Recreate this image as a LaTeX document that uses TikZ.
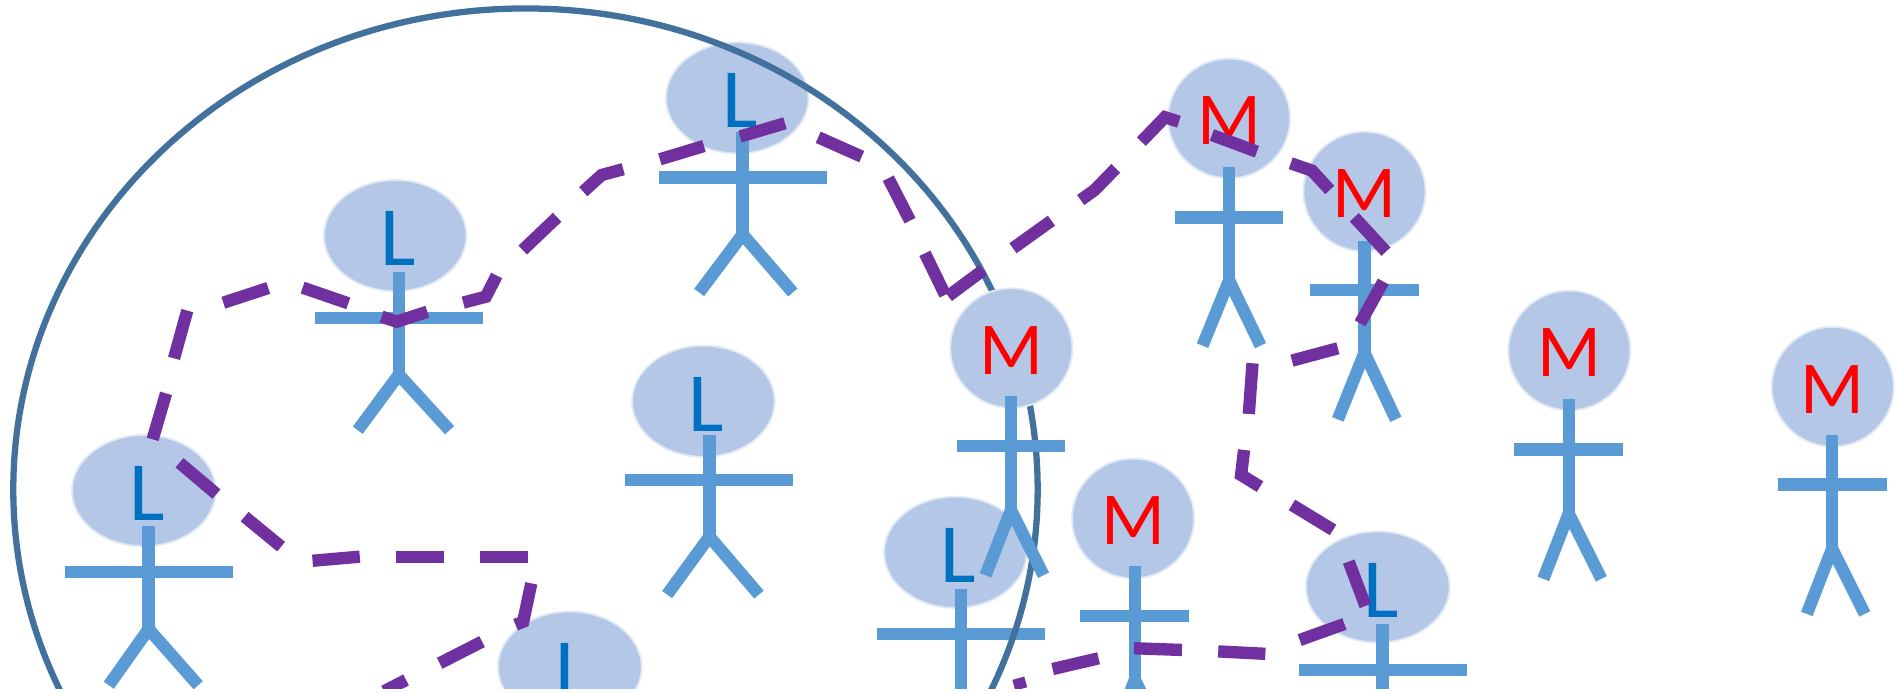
\documentclass[tikz,border=0pt]{standalone}
\usepackage{fontspec}
\setmainfont{Carlito}
\usetikzlibrary{shapes.geometric}
\definecolor{headblue}{HTML}{B4C7E7}
\definecolor{bodyblue}{HTML}{5B9BD5}
\definecolor{lblue}{HTML}{0070C0}
\definecolor{arcblue}{HTML}{41719C}
\definecolor{dashpurple}{HTML}{7030A0}
\tikzset{
  headshape/.style={ellipse,fill=headblue,draw=headblue!40,line width=1.5pt,inner sep=0pt},
  bodyline/.style={draw=bodyblue,line width=10.2bp},
  limbline/.style={draw=bodyblue,line width=10.2bp},
  dashseg/.style={draw=dashpurple,line width=10.2bp,line join=miter},
  bigarc/.style={draw=arcblue,line width=5.2bp},
  letterL/.style={text=lblue,font=\fontsize{70}{70}\selectfont,inner sep=0pt},
  letterM/.style={text=red,font=\fontsize{62}{62}\selectfont,inner sep=0pt}
}
% x, top, arm y, crotch y, arm half, right leg, left leg, foot y
\newcommand{\stick}[8]{%
  \path[bodyline] (#1,#2) -- (#1,#4);
  \path[bodyline] (#1-#5,#3) -- (#1+#5,#3);
  \path[limbline,line join=miter] (#1-#7,#8) -- (#1,#4) -- (#1+#6,#8);
}
% name, x, y, rx, ry
\newcommand{\lhead}[5]{%
  \node[headshape,minimum width=#4*2bp,minimum height=#5*2bp] (#1) at (#2,#3) {};
  \node[letterL] (#1t) at (#2+2.5,#3+2.5) {L};
}
\newcommand{\mhead}[5]{%
  \node[headshape,minimum width=#4*2bp,minimum height=#5*2bp] (#1) at (#2,#3) {};
  \node[letterM] (#1t) at (#2,#3+2) {M};
}
\begin{document}
\begin{tikzpicture}[x=1bp,y=-1bp]
\useasboundingbox (0,0) rectangle (1568,572.6);
\begin{scope}
\clip (0,0) rectangle (1568,569.3);
% L people (beneath the arc)
\lhead{la}{119}{406}{59.5}{46}
\stick{123}{435}{473.4}{520.5}{69.5}{41}{33}{567}
\lhead{lb}{327}{195}{59}{46}
\stick{330}{225}{263}{310}{69.5}{42}{34}{356}
\lhead{lc}{610}{81}{59}{46}
\stick{614.5}{109}{147}{194}{69.5}{41.5}{36}{242}
\lhead{ld}{582}{332}{59}{46}
\stick{587}{360}{397}{444}{69.5}{41}{35}{492}
\lhead{le}{790.5}{457}{59}{46}
\stick{795}{487}{524.6}{572}{69.5}{41}{35}{618}
\lhead{lf}{471.5}{552}{59.5}{46}
% big circle
\path[bigarc] (434.8,405) ellipse [x radius=423.8,y radius=398];
% M people
\mhead{ma}{836.8}{288}{50.5}{49.5}
\stick{836.5}{328}{369}{422}{45}{27}{21}{476}
\mhead{mb}{937.5}{429}{50.5}{49.5}
\stick{939}{468.5}{509.7}{562.5}{45}{27}{21}{617}
\mhead{mc}{1017}{98}{50.5}{49.5}
\stick{1017}{138}{180}{232}{45}{26}{22}{286}
\mhead{md}{1129}{158.5}{50.5}{49.5}
\stick{1129}{199}{240}{292}{45}{26}{22}{347}
\mhead{me}{1298.5}{290}{50.5}{49.5}
\stick{1298}{330}{372}{425}{45}{27}{21}{479}
\mhead{mf}{1516.5}{320}{50.5}{49.5}
\stick{1516}{360}{401}{454}{45}{27}{21}{508}
\lhead{lg}{1140}{485.7}{59.5}{46}
\stick{1144}{516}{554.4}{601}{69.5}{41}{35}{648}
% dashes
\foreach \p in {
 {(126.3,363.5)--(137.4,325.5)},{(144,296.5)--(153,264)--(155,257)},{(184.8,250.5)--(222,238.3)},
 {(250.4,238)--(288.2,251)},{(315.8,262)--(328.2,266.2)--(353.6,257.9)},{(383.3,250.4)--(402,245.5)--(411,228)},
 {(432.5,206.9)--(461,179.8)},{(482.6,158.6)--(497.8,144.8)--(515.7,140)},{(546,131.8)--(582.5,120.8)},
 {(612.3,113)--(649.5,102)},{(677,113.6)--(713,129.6)},{(735,147.5)--(753,182.6)},
 {(765.3,209.6)--(782,244)},{(784.6,245)--(813.6,223.4)},{(838.2,205.4)--(870,182.6)},
 {(894.2,165.5)--(905.8,157.2)--(923.2,139.3)},{(944.4,117.2)--(963.9,97)--(975.5,100.7)},{(1002.8,111.7)--(1040,125.5)},
 {(1068,135.1)--(1085.6,141.2)--(1100.3,157.2)},{(1120.6,179.8)--(1146.8,208.2)},{(1144.6,233)--(1125.4,267.5)},
 {(1107,288.2)--(1069,298.4)},{(1036.4,300.6)--(1033.3,342.5)},{(1029.4,372.3)--(1026.9,393)--(1042.6,402.7)},
 {(1069,417.8)--(1103,438.5)},{(1116,464.7)--(1129.8,501.4)},{(1112.4,516.3)--(1075.4,529.6)},
 {(1047,541)--(1008,539)},{(978,537.8)--(938.3,536.4)},{(909,544.7)--(871,553.6)},
 {(842.6,561.2)--(845,570)},
 {(148.5,382.9)--(179.1,408.8)},{(202.4,427.5)--(232.6,452.3)},{(258.6,464)--(297.7,460.6)},{(327.6,460.9)--(367.5,460.9)},
 {(397,461)--(437,461)},{(439.6,482.7)--(432.9,514.4)--(426.6,517)},{(398.9,530.9)--(363.8,548.8)},{(336,562.6)--(317.8,572)}
}{\path[dashseg] \p;}
\end{scope}
\end{tikzpicture}
\end{document}
